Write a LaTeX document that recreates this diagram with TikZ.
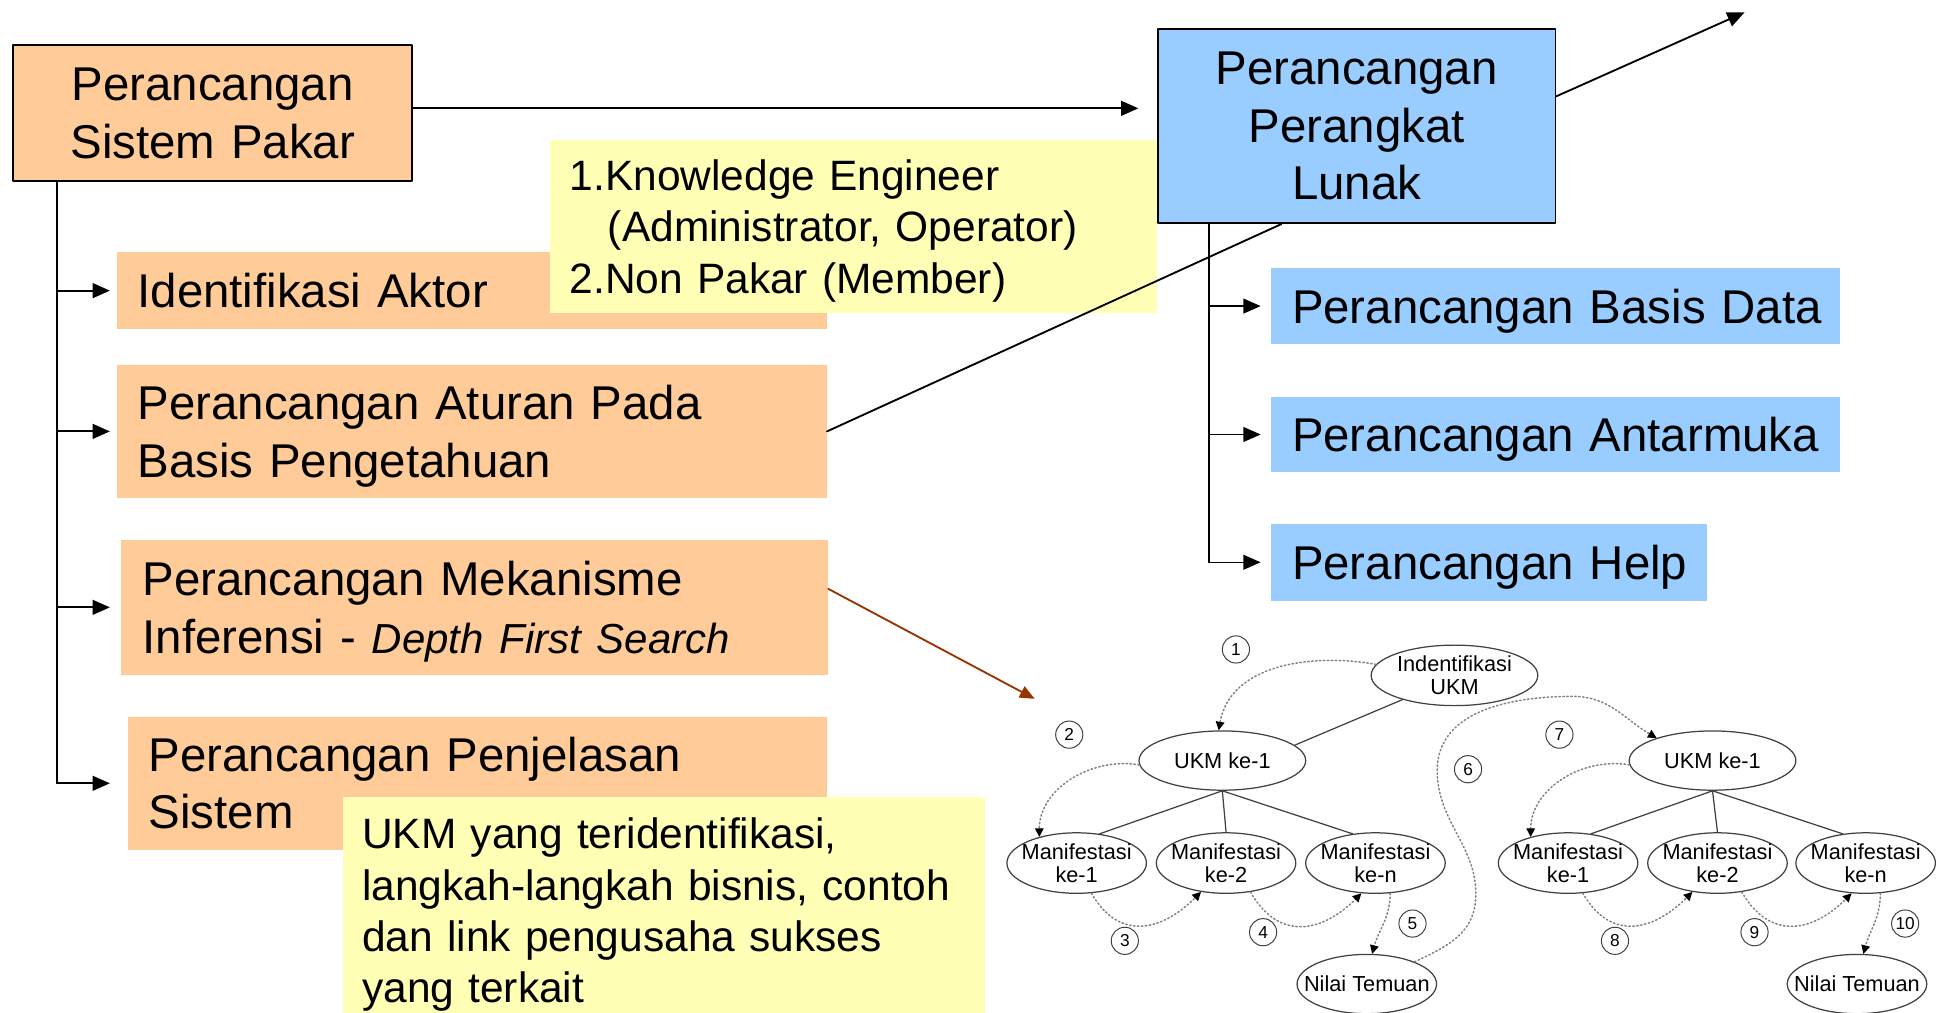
\documentclass[tikz,border=0pt]{standalone}
\usepackage{fontspec}
\setmainfont{Liberation Sans}
\usetikzlibrary{arrows.meta,shapes.geometric}

\definecolor{peach}{HTML}{FFCC99}
\definecolor{skyblue}{HTML}{99CCFF}
\definecolor{paleyellow}{HTML}{FFFFB5}
\definecolor{rust}{HTML}{993300}
\definecolor{linegray}{HTML}{404040}

\newcommand{\boxfont}{\fontsize{19.2pt}{23.25pt}\selectfont}
\newcommand{\notefont}{\fontsize{17.2pt}{20.75pt}\selectfont}
\newcommand{\treefont}{\fontsize{8.8pt}{9.4pt}\selectfont}
\newcommand{\circfont}{\fontsize{7pt}{7pt}\selectfont}

\begin{document}
\begin{tikzpicture}[x=0.5pt,y=0.5pt,line cap=round,line join=round,>={Triangle[length=7pt,width=6pt]},
  stage/.style={anchor=north west,inner xsep=8.5pt,inner ysep=0pt,align=left,font=\boxfont},
  head/.style={stage,draw,line width=0.75pt,align=center},
  note/.style={anchor=north west,fill=paleyellow,inner xsep=8pt,inner ysep=0pt,align=left,font=\notefont},
  oval/.style={ellipse,draw=linegray,line width=0.5pt,inner xsep=-8pt,inner ysep=-2pt,align=center,font=\treefont},
  man/.style={oval,minimum width=56.5pt,minimum height=24.5pt},
  num/.style={circle,draw=linegray,line width=0.4pt,inner sep=0pt,minimum size=11pt,font=\circfont},
  trail/.style={draw=gray,densely dotted,line width=0.6pt,-{Triangle[length=3.5pt,width=3.5pt,black]}},
  link/.style={draw=linegray,line width=0.5pt}]
\useasboundingbox (0,0) rectangle (1568,820);
\clip (0,0) rectangle (1568,820);

% two main blocks
\node[head,fill=peach,text width=144.5pt,minimum height=55pt] (A) at (10,784) {Perancangan\\Sistem Pakar};
\node[head,fill=skyblue,text width=144pt,minimum height=78.5pt] (B) at (937,797) {Perancangan\\Perangkat\\Lunak};

% expert system steps
\node[stage,fill=peach,text width=270.5pt,minimum height=31pt] (C1) at (94,616) {Identifikasi Aktor};
\node[stage,fill=peach,text width=270.5pt,minimum height=54pt,text depth=23.25pt] (C2) at (94,525) {Perancangan Aturan Pada\\Basis Pengetahuan};
\node[stage,fill=peach,text width=269pt,minimum height=54.5pt,text depth=23.25pt] (C3) at (98,383) {Perancangan Mekanisme\\Inferensi - {\fontsize{17pt}{23.25pt}\selectfont\itshape Depth First Search}};
\node[stage,fill=peach,text width=266pt,minimum height=54pt] (C4) at (103,240) {Perancangan Penjelasan\\Sistem};

% software steps
\node[stage,fill=skyblue,text width=213.5pt,minimum height=30.5pt,text depth=0pt] (D1) at (1029,603) {\mbox{Perancangan Basis Data}};
\node[stage,fill=skyblue,text width=213.5pt,minimum height=30.5pt,text depth=0pt] (D2) at (1029,499) {\mbox{Perancangan Antarmuka}};
\node[stage,fill=skyblue,text width=159.5pt,minimum height=31pt,text depth=0pt] (D3) at (1029,396) {\mbox{Perancangan Help}};

% notes
\node[note,text width=230pt,minimum height=70pt,text depth=41.5pt] (Y1) at (445,707) {1.Knowledge Engineer\\\hspace*{15.5pt}(Administrator, Operator)\\2.Non Pakar (Member)};
\node[note,text width=244pt,minimum height=92pt,text depth=62.25pt] (Y2) at (277,175) {UKM yang teridentifikasi,\\langkah-langkah bisnis, contoh\\dan link pengusaha sukses\\yang terkait};

% connectors
\coordinate (lt) at (46,0);
\coordinate (ltip) at (89,0);
\coordinate (rt) at (979,0);
\coordinate (rtip) at (1021,0);
\coordinate (up) at (1413,810);
\coordinate (tree) at (838,254);
\draw[line width=0.75pt] (A.south -| lt) -- (C4.west -| lt);
\foreach \n in {C1,C2,C3,C4}
  \draw[->,line width=0.75pt] (\n.west -| lt) -- (\n.west -| ltip);
\draw[line width=0.6pt] (B.south -| rt) -- (D3.west -| rt);
\foreach \n in {D1,D2,D3}
  \draw[->,line width=0.6pt] (\n.west -| rt) -- (\n.west -| rtip);
\draw[->,line width=0.75pt,shorten >=7.5pt] ([yshift=2pt]A.east) -- ([yshift=2pt]A.east -| B.west);
\draw[->,line width=0.75pt] ([yshift=-27.5pt]B.north east) -- (up);
\draw[line width=0.75pt] (C2.east) -- ([xshift=-30.5pt]B.south);
\draw[->,rust,line width=0.75pt,>={Triangle[length=6pt,width=5pt]}] ([yshift=7.5pt]C3.east) -- (tree);

% search tree
\node[oval,minimum width=67.5pt,minimum height=24.5pt] (ind) at (1178,273) {Indentifikasi\\UKM};
\node[oval,minimum width=67.5pt,minimum height=24pt] (ukmA) at (990,204) {UKM ke-1};
\node[man] (manA1) at (872,121) {Manifestasi\\ke-1};
\node[man] (manA2) at (993,121) {Manifestasi\\ke-2};
\node[man] (manA3) at (1114,121) {Manifestasi\\ke-n};
\node[man,minimum height=24pt] (nilA) at (1107,23) {Nilai Temuan};
\node[oval,minimum width=67.5pt,minimum height=24pt] (ukmB) at (1387,204) {UKM ke-1};
\node[man] (manB1) at (1270,121) {Manifestasi\\ke-1};
\node[man] (manB2) at (1391,121) {Manifestasi\\ke-2};
\node[man] (manB3) at (1511,121) {Manifestasi\\ke-n};
\node[man,minimum height=24pt] (nilB) at (1504,23) {Nilai Temuan};

\draw[link] (ind.205) -- (ukmA.12);
\foreach \t in {A,B} {
  \draw[link] (ukm\t.south) -- (man\t1.52);
  \draw[link] (ukm\t.south) -- (man\t2.north);
  \draw[link] (ukm\t.south) -- (man\t3.128);
}

% search order
\draw[trail] (ind.172) to[out=170,in=80] (ukmA.97);
\draw[trail] (ukmA.183) to[out=170,in=90] (manA1.145);
\draw[trail] (manA1.-64) to[out=-60,in=-135,looseness=1.3] (manA2.-131);
\draw[trail] (manA2.-50) to[out=-60,in=-135,looseness=1.3] (manA3.-115);
\draw[trail] (manA3.-64) to[out=-90,in=75] (nilA.80);
\draw[trail] (nilA.25) to[out=25,in=-95] (1195,90) to[out=85,in=-90] (1164,196)
  to[out=90,in=180] (1274,256) to[out=0,in=150] (ukmB.158);
\draw[trail] (ukmB.183) to[out=170,in=90] (manB1.145);
\draw[trail] (manB1.-64) to[out=-60,in=-135,looseness=1.3] (manB2.-131);
\draw[trail] (manB2.-50) to[out=-60,in=-135,looseness=1.3] (manB3.-115);
\draw[trail] (manB3.-64) to[out=-90,in=75] (nilB.78);

\foreach \k/\x/\y in {1/1001/294,2/866/225,3/911/58,4/1023/65,5/1144/72,
    6/1189/197,7/1263/225,8/1308/58,9/1421/65,10/1543/72}
  \node[num] (n\k) at (\x,\y) {\k};
\end{tikzpicture}
\end{document}
